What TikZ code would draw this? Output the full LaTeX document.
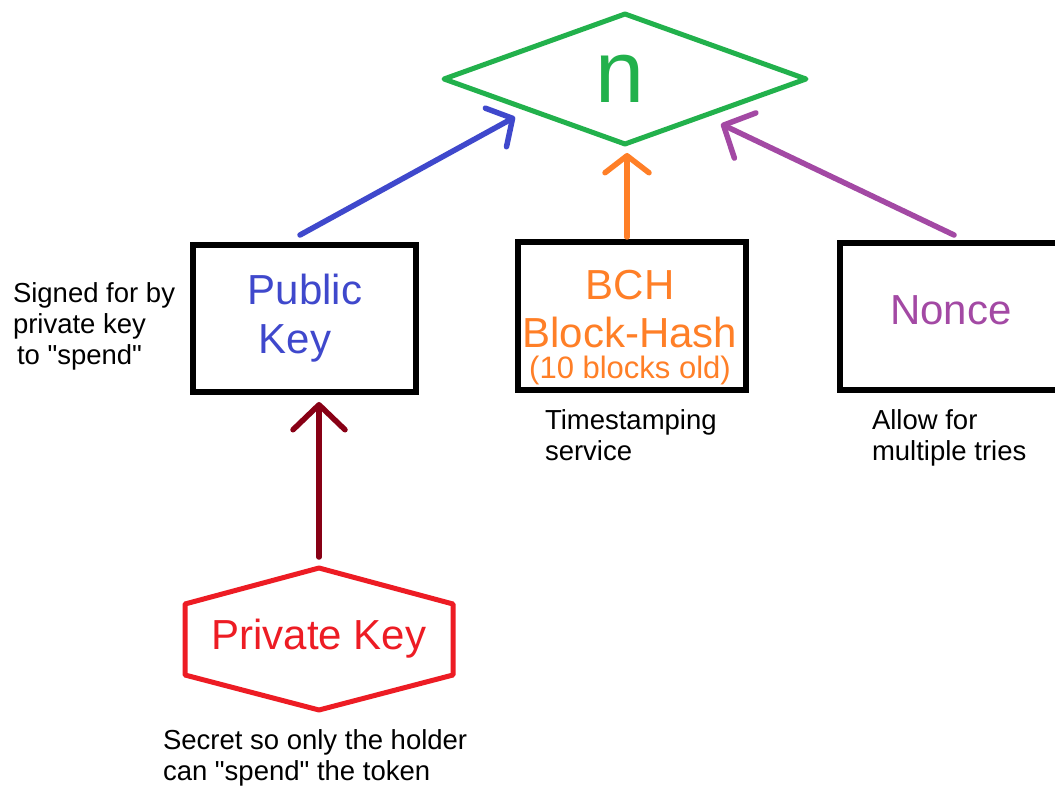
\documentclass[tikz,border=0pt]{standalone}
\usepackage{fontspec}
\setmainfont{Liberation Sans}[Ligatures=TeXOff]
\usetikzlibrary{shapes.geometric,arrows.meta}
\definecolor{pgreen}{HTML}{22B14C}
\definecolor{pblue}{HTML}{3F48CC}
\definecolor{porange}{HTML}{FF7F27}
\definecolor{ppurple}{HTML}{A349A4}
\definecolor{pdarkred}{HTML}{880015}
\definecolor{pred}{HTML}{ED1C24}
\begin{document}
\begin{tikzpicture}[x=1pt,y=-1pt,
  box/.style={draw=black, line width=6.5pt, inner sep=0pt, outer sep=0pt, line join=miter},
  boxtext/.style={inner sep=0pt, outer sep=0pt, align=center, font=\fontsize{42}{49}\selectfont},
  note/.style={inner sep=0pt, outer sep=0pt, anchor=north west, align=left, text=black, font=\fontsize{27.5}{31}\selectfont},
  conn/.style={line width=5.5pt, line cap=round, line join=round}]
\useasboundingbox (0,0) rectangle (1055,786);
\clip (0,0) rectangle (1055,786);
\fill[white] (0,0) rectangle (1055,786);

% diamond n
\node[diamond, draw=pgreen, line width=5pt, line join=round, minimum width=362pt, minimum height=130pt,
      inner sep=0pt, outer sep=0pt, text=pgreen, font=\fontsize{88}{100}\selectfont] (n) at (625,79) {\kern-10pt n};

% boxes
\node[box, minimum width=223pt, minimum height=147pt] (pub) at (304.5,318.5) {};
\node[box, minimum width=228pt, minimum height=148pt] (bch) at (632,316) {};
\node[box, minimum width=224pt, minimum height=147pt] (nonce) at (952,316.5) {};

% box texts
\node[boxtext, anchor=north, text=pblue] (pubT) at (305,274) {Public\\Key\hspace*{20pt}};
\node[boxtext, anchor=north, text=porange, font=\fontsize{42}{48}\selectfont] (bchT) at (630,270)
  {BCH\\Block-Hash\\[-17pt]{\fontsize{31}{30}\selectfont(10 blocks old)}};
\node[boxtext, anchor=base, text=ppurple] (nonceT) at (951,325) {Nonce};

% private key hexagon
\node[inner sep=0pt, outer sep=0pt, minimum width=268pt, minimum height=142pt, text=pred,
      font=\fontsize{42}{49}\selectfont] (priv) at (319,639) {Private Key};
\draw[pred, line width=5pt, line join=round]
  (priv.north) -- ([shift={(0,36)}]priv.north east) -- ([shift={(0,-35)}]priv.south east)
  -- (priv.south) -- ([shift={(0,-35)}]priv.south west) -- ([shift={(0,36)}]priv.north west) -- cycle;

% notes
\node[note] (noteSign) at (13,283) {Signed for by\\private key\\\hspace*{4pt}to "spend"};
\node[note] (noteTime) at (545,410) {Timestamping\\service};
\node[note] (noteNonce) at (872,410) {Allow for\\multiple tries};
\node[note] (notePriv) at (163,730) {Secret so only the holder\\can "spend" the token};

% connectors
\draw[conn, pblue, -{Straight Barb[length=19pt,width=44pt,round]}]
  ([shift={(-4.5,-10)}]pub.north) -- ([shift={(-19.5,5.5)}]n.south west);
\draw[conn, porange, -{Straight Barb[length=17pt,width=44pt,round]}]
  ([shift={(-5,-5)}]bch.north) -- ([shift={(2,9)}]n.south);
\draw[conn, ppurple, -{Straight Barb[length=24pt,width=50pt,round]}]
  ([shift={(2,-8)}]nonce.north) -- ([shift={(5.5,12.5)}]n.south east);
\draw[conn, pdarkred, -{Straight Barb[length=25pt,width=52pt,round]}]
  ([shift={(0,-11)}]priv.north) -- ([shift={(14.5,10)}]pub.south);
\end{tikzpicture}
\end{document}
